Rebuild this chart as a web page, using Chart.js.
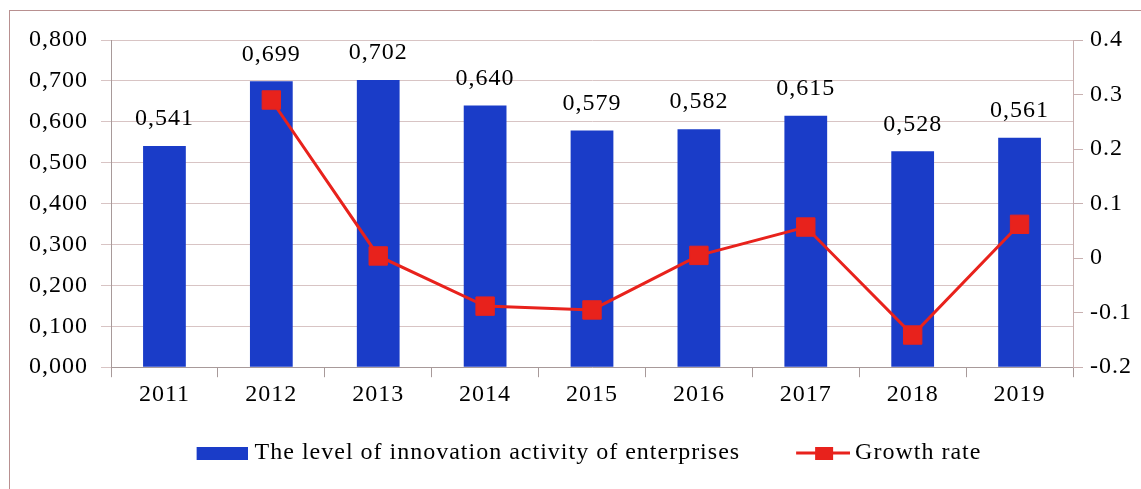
<!DOCTYPE html>
<html>
<head>
<meta charset="utf-8">
<script src="https://cdn.jsdelivr.net/npm/chart.js@4"></script>
<style>
  html, body { margin: 0; padding: 0; background: #fff; }
  #wrap { position: relative; width: 1141px; height: 489px; overflow: hidden; }
  #frame { position: absolute; left: 9px; top: 10px; width: 1160px; height: 500px;
           border: 1px solid #b89090; box-sizing: border-box; }
  canvas { position: absolute; left: 0; top: 0; }
</style>
</head>
<body>
<div id="wrap">
  <div id="frame"></div>
  <canvas id="myChart" width="1141" height="489"></canvas>
</div>
<script>
// Data
const years = ["2011", "2012", "2013", "2014", "2015", "2016", "2017", "2018", "2019"];
const innovationLevel = [0.541, 0.699, 0.702, 0.64, 0.579, 0.582, 0.615, 0.528, 0.561];
const growthRate = [null, 0.29, 0.004, -0.088, -0.095, 0.005, 0.057, -0.141, 0.062];

const FONT = "'Liberation Serif', 'Times New Roman', serif";
const BLUE = "#1a3cc8";
const RED = "#e8221c";
const TEXT = "#000";

// Legend markers: a blue block and a red line with a square on it
function makeMarker(w, draw) {
  const c = document.createElement("canvas");
  c.width = w;
  c.height = 20;
  draw(c.getContext("2d"));
  return c;
}
const barMarker = makeMarker(93, (g) => {
  g.fillStyle = BLUE;
  g.fillRect(42, 4, 51, 13);
});
const lineMarker = makeMarker(97, (g) => {
  g.strokeStyle = RED;
  g.lineWidth = 3;
  g.beginPath();
  g.moveTo(43, 10);
  g.lineTo(97, 10);
  g.stroke();
  g.fillStyle = RED;
  g.fillRect(62, 4, 18, 13);
});

// Slightly wider text like the scanned original
const spacing = {
  id: "spacing",
  beforeUpdate(chart) {
    chart.ctx.letterSpacing = "1px";
  },
  beforeDraw(chart) {
    chart.ctx.letterSpacing = "1px";
  },
};

// Draw value labels over the bars
const barLabels = {
  id: "barLabels",
  afterDatasetsDraw(chart) {
    const ctx = chart.ctx;
    const meta = chart.getDatasetMeta(1);
    ctx.save();
    ctx.font = "24px " + FONT;
    ctx.fillStyle = TEXT;
    ctx.textAlign = "center";
    ctx.textBaseline = "middle";
    meta.data.forEach((bar, i) => {
      const text = innovationLevel[i].toFixed(3).replace(".", ",");
      ctx.fillText(text, bar.x, bar.y - 27);
    });
    ctx.restore();
  },
};

const ctx = document.getElementById("myChart").getContext("2d");
const chart = new Chart(ctx, {
  type: "bar",
  data: {
    labels: years,
    datasets: [
      {
        type: "line",
        label: "Growth rate",
        data: growthRate,
        yAxisID: "y1",
        borderColor: RED,
        backgroundColor: RED,
        borderWidth: 3,
        pointStyle: "rect",
        pointRadius: 13,
        pointBorderWidth: 1,
        pointBackgroundColor: RED,
        pointBorderColor: RED,
        tension: 0,
        order: 0,
      },
      {
        label: "The level of innovation activity of enterprises",
        data: innovationLevel,
        yAxisID: "y",
        backgroundColor: BLUE,
        barPercentage: 0.4,
        categoryPercentage: 1,
        order: 1,
      },
    ],
  },
  plugins: [spacing, barLabels],
  options: {
    responsive: false,
    animation: false,
    layout: { padding: { left: 0, right: 0, top: 40, bottom: 14 } },
    plugins: {
      tooltip: { enabled: false },
      legend: {
        position: "bottom",
        reverse: true,
        labels: {
          font: { family: FONT, size: 24 },
          color: TEXT,
          usePointStyle: true,
          pointStyleWidth: 83,
          boxHeight: 20,
          padding: 20,
          generateLabels: (chart) =>
            chart.data.datasets.map((ds, i) => ({
              text: ds.label,
              datasetIndex: i,
              fontColor: TEXT,
              pointStyle: i === 1 ? barMarker : lineMarker,
              lineWidth: 0,
              hidden: false,
            })),
        },
      },
    },
    scales: {
      x: {
        grid: {
          offset: true,
          drawOnChartArea: false,
          drawTicks: true,
          tickLength: 10,
          color: "#a89a9a",
        },
        border: { color: "#a89a9a" },
        ticks: { font: { family: FONT, size: 24 }, color: TEXT, padding: 3 },
        afterFit: (scale) => {
          scale.height += 9;
        },
      },
      y: {
        position: "left",
        min: 0,
        max: 0.8,
        ticks: {
          stepSize: 0.1,
          font: { family: FONT, size: 24 },
          color: TEXT,
          padding: 13,
          callback: (v) => v.toFixed(3).replace(".", ","),
        },
        grid: { color: "#d8c4c4", tickLength: 10 },
        border: { color: "#a89a9a" },
        afterFit: (scale) => {
          scale.width += 16;
        },
      },
      y1: {
        position: "right",
        min: -0.2,
        max: 0.4,
        ticks: {
          stepSize: 0.1,
          font: { family: FONT, size: 24 },
          color: TEXT,
          padding: 7,
          callback: (v) => (Math.abs(v) < 1e-9 ? "0" : v.toFixed(1)),
        },
        grid: { drawOnChartArea: false, tickLength: 10, color: "#c8b0b0" },
        border: { color: "#c8b0b0" },
        afterFit: (scale) => {
          scale.width += 2;
        },
      },
    },
  },
});
</script>
</body>
</html>
